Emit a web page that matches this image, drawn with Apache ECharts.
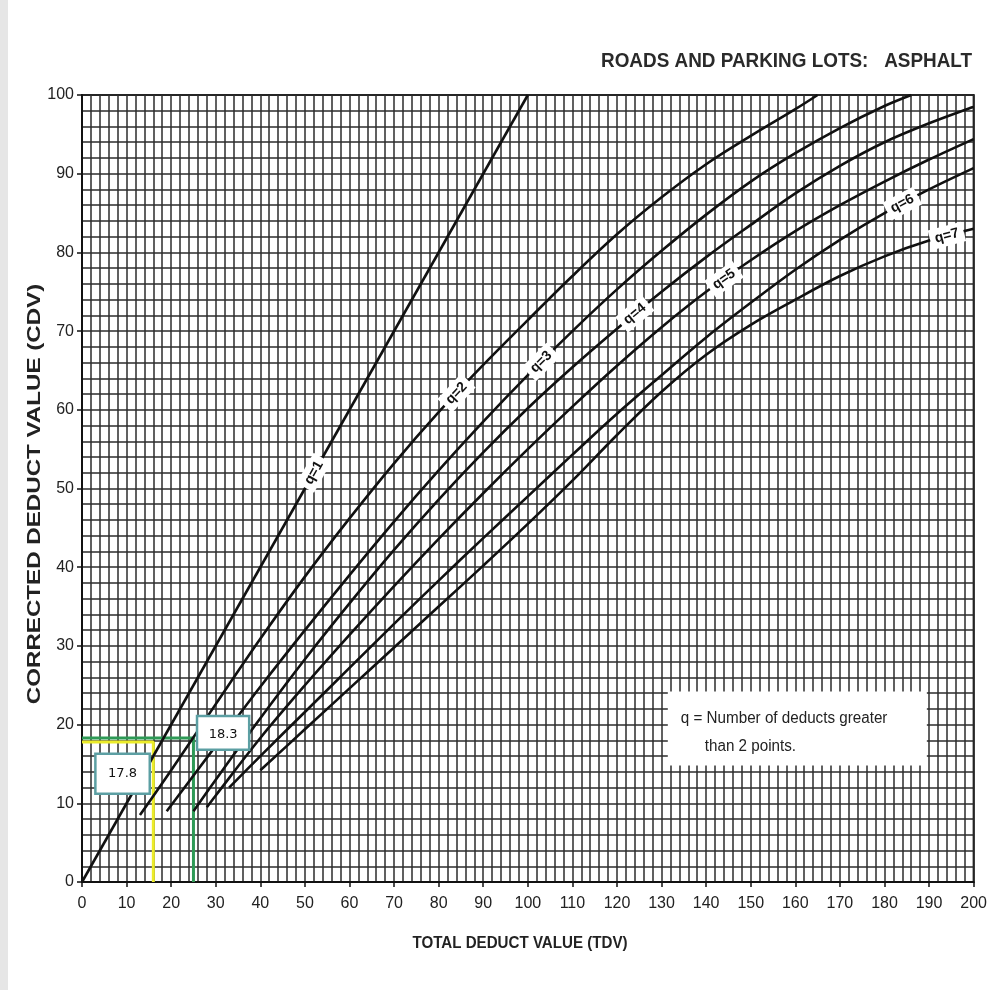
<!DOCTYPE html>
<html><head><meta charset="utf-8">
<script src="https://cdn.jsdelivr.net/npm/echarts@6/dist/echarts.min.js"></script>
<style>html,body{margin:0;padding:0;background:#fff}#c{width:990px;height:990px}</style>
</head><body><div id="c"></div>
<script>
// ---- data ----
const titleText = 'ROADS AND PARKING LOTS:   ASPHALT';
const xName = 'TOTAL DEDUCT VALUE (TDV)';
const yName = 'CORRECTED DEDUCT VALUE (CDV)';
const xTicks = [0,10,20,30,40,50,60,70,80,90,100,110,120,130,140,150,160,170,180,190,200];
const yTicks = [0,10,20,30,40,50,60,70,80,90,100];

const q1_tdv = [0, 100];
const q1_cdv = [0, 100];
const q2_tdv = [13,20,30,40,50,60,70,80,90,100,110,120,130,140,150,160,165];
const q2_cdv = [8.5,14.2,22.6,30.9,38.8,46.2,53.2,59.7,65.7,71.4,77,82.3,87,91.2,94.8,98.2,100];
const q3_tdv = [19,30,40,50,60,70,80,90,100,110,120,130,140,150,160,170,180,186];
const q3_cdv = [9,17.3,24.8,32,39,45.8,52.3,58.5,64.4,70,75.3,80.2,84.8,89,92.6,95.8,98.6,100];
const q4_tdv = [25,30,40,50,60,70,80,90,100,110,120,130,140,150,160,170,180,190,200];
const q4_cdv = [9,13,20.8,28.3,35.4,42.2,48.6,54.6,60.2,65.4,70.3,75,79.4,83.5,87.5,91,94,96.4,98.5];
const q5_tdv = [28,30,40,50,60,70,80,90,100,110,120,130,140,150,160,170,180,190,200];
const q5_cdv = [9.5,11,18.3,25,31.4,37.6,43.6,49.4,55,60.4,65.6,70.5,75,79,82.7,86,89,91.8,94.4];
const q6_tdv = [33,40,50,60,70,80,90,100,110,120,130,140,150,160,170,180,190,200];
const q6_cdv = [12,16,21.6,27.2,32.8,38.3,43.7,49,54.3,59.5,64.4,69.2,73.6,77.8,81.6,85,88,90.7];
const q7_tdv = [40,50,60,70,80,90,100,110,120,130,140,150,160,170,180,190,200];
const q7_cdv = [14.2,19.4,24.6,29.8,35,40.2,45.5,51,56.8,62.3,67,70.8,74,77,79.5,81.5,83];

const curveNames = ['q=1','q=2','q=3','q=4','q=5','q=6','q=7'];
const curveTdv = [q1_tdv,q2_tdv,q3_tdv,q4_tdv,q5_tdv,q6_tdv,q7_tdv];
const curveCdv = [q1_cdv,q2_cdv,q3_cdv,q4_cdv,q5_cdv,q6_cdv,q7_cdv];
const labelAtTdv = [52, 84, 103, 124, 144, 184, 194];

const yellowTdv = [0, 16, 16];
const yellowCdv = [17.8, 17.8, 0];
const greenTdv = [0, 25, 25];
const greenCdv = [18.3, 18.3, 0];
const yellowText = '17.8';
const greenText = '18.3';
const noteLines = ['q = Number of deducts greater', 'than 2 points.'];

// ---- chart ----
const zip = (a, b) => a.map((v, i) => [v, b[i]]);
const chart = echarts.init(document.getElementById('c'), null, {renderer: 'canvas'});
const FONT = "'Liberation Sans',Arial,sans-serif";
const gridStyle = {color: '#2c2c2c', width: 1.5};

const series = curveNames.map((n, i) => ({
  type: 'line', name: n, data: zip(curveTdv[i], curveCdv[i]),
  smooth: i === 0 ? false : 0.35, showSymbol: false, symbol: 'none',
  lineStyle: {color: '#111', width: 2.6}, z: 5, silent: true
}));
series.push({type: 'line', data: zip(yellowTdv, yellowCdv), showSymbol: false, symbol: 'none',
  lineStyle: {color: '#ecec2a', width: 3}, z: 3, silent: true});
series.push({type: 'line', data: zip(greenTdv, greenCdv), showSymbol: false, symbol: 'none',
  lineStyle: {color: '#2e9a56', width: 3}, z: 3, silent: true});

chart.setOption({
  animation: false,
  backgroundColor: '#fff',
  grid: {left: 82, right: 15, top: 95, bottom: 108, show: true, borderColor: '#111', borderWidth: 2, backgroundColor: '#fff'},
  xAxis: {type: 'value', min: 0, max: 200, interval: 10,
    axisLine: {lineStyle: {color: '#111', width: 2}},
    axisTick: {show: true, length: 5, lineStyle: {color: '#111', width: 1.5}},
    axisLabel: {fontFamily: FONT, fontSize: 16, color: '#222', margin: 14,
      formatter: v => xTicks.includes(v) ? String(v) : ''},
    splitLine: {show: true, lineStyle: gridStyle},
    minorTick: {show: false, splitNumber: 5},
    minorSplitLine: {show: true, lineStyle: gridStyle}
  },
  yAxis: {type: 'value', min: 0, max: 100, interval: 10,
    axisLine: {show: true, lineStyle: {color: '#111', width: 2}},
    axisTick: {show: true, length: 5, lineStyle: {color: '#111', width: 1.5}},
    axisLabel: {fontFamily: FONT, fontSize: 16, color: '#222', margin: 8,
      formatter: v => yTicks.includes(v) ? String(v) : ''},
    splitLine: {show: true, lineStyle: gridStyle},
    minorTick: {show: false, splitNumber: 5},
    minorSplitLine: {show: true, lineStyle: gridStyle}
  },
  series: series
});

function interp(xs, ys, x) {
  if (x <= xs[0]) return ys[0];
  for (let i = 1; i < xs.length; i++) {
    if (x <= xs[i]) { const t = (x - xs[i-1]) / (xs[i] - xs[i-1]); return ys[i-1] + t * (ys[i] - ys[i-1]); }
  }
  return ys[ys.length - 1];
}
const toPx = (x, y) => chart.convertToPixel({gridIndex: 0}, [x, y]);

const graphics = [];
graphics.push({type: 'rect', shape: {x: 0, y: 0, width: 8, height: 990}, style: {fill: '#e6e6e6'}, z: 0});
// title and axis names
graphics.push({type: 'text', x: 972, y: 61, scaleX: 0.9, z: 50,
  style: {text: titleText, fill: '#2a2a2a', font: "bold 21px " + FONT, align: 'right', verticalAlign: 'middle'}});
graphics.push({type: 'text', x: 520, y: 943, scaleX: 0.89, z: 50,
  style: {text: xName, fill: '#222', font: "bold 17px " + FONT, align: 'center', verticalAlign: 'middle'}});
graphics.push({type: 'text', x: 35, y: 494, rotation: Math.PI / 2, scaleX: 1.27, z: 50,
  style: {text: yName, fill: '#222', font: "bold 19px " + FONT, align: 'center', verticalAlign: 'middle'}});
// curve labels
curveNames.forEach((n, i) => {
  const xs = curveTdv[i], ys = curveCdv[i], x = labelAtTdv[i];
  const p = toPx(x, interp(xs, ys, x));
  const a = toPx(x - 4, interp(xs, ys, x - 4));
  const b = toPx(x + 4, interp(xs, ys, x + 4));
  const ang = Math.atan2(a[1] - b[1], b[0] - a[0]);
  graphics.push({type: 'text', x: p[0], y: p[1], rotation: ang, z: 100,
    style: {text: n, fill: '#111', font: "bold 14px " + FONT,
      align: 'center', verticalAlign: 'middle', backgroundColor: '#fff', padding: [3, 5]}});
});
// value boxes
const yb = toPx(3, 16.3), yb2 = toPx(15.2, 11.2);
graphics.push({type: 'rect', z: 100, shape: {x: yb[0], y: yb[1], width: yb2[0] - yb[0], height: yb2[1] - yb[1]},
  style: {fill: '#fff', stroke: '#5c9fa3', lineWidth: 2.5}});
graphics.push({type: 'text', z: 101, x: (yb[0] + yb2[0]) / 2, y: (yb[1] + yb2[1]) / 2,
  style: {text: yellowText, fill: '#111', font: "13px 'DejaVu Sans', sans-serif", align: 'center', verticalAlign: 'middle'}});
const gb = toPx(25.8, 21.1), gb2 = toPx(37.5, 16.8);
graphics.push({type: 'rect', z: 100, shape: {x: gb[0], y: gb[1], width: gb2[0] - gb[0], height: gb2[1] - gb[1]},
  style: {fill: '#fff', stroke: '#5c9fa3', lineWidth: 2.5}});
graphics.push({type: 'text', z: 101, x: (gb[0] + gb2[0]) / 2, y: (gb[1] + gb2[1]) / 2 + 2,
  style: {text: greenText, fill: '#111', font: "13px 'DejaVu Sans', sans-serif", align: 'center', verticalAlign: 'middle'}});
// note box
const nb = toPx(131.4, 24.2), nb2 = toPx(189.5, 14.8);
graphics.push({type: 'rect', z: 100, shape: {x: nb[0], y: nb[1], width: nb2[0] - nb[0], height: nb2[1] - nb[1]},
  style: {fill: '#fff'}});
graphics.push({type: 'text', z: 101, x: nb[0] + 13, y: nb[1] + 27, scaleX: 0.95,
  style: {text: noteLines[0], fill: '#222', font: "16px " + FONT, verticalAlign: 'middle'}});
graphics.push({type: 'text', z: 101, x: nb[0] + 37, y: nb[1] + 55, scaleX: 0.95,
  style: {text: noteLines[1], fill: '#222', font: "16px " + FONT, verticalAlign: 'middle'}});

chart.setOption({graphic: graphics});
</script></body></html>
